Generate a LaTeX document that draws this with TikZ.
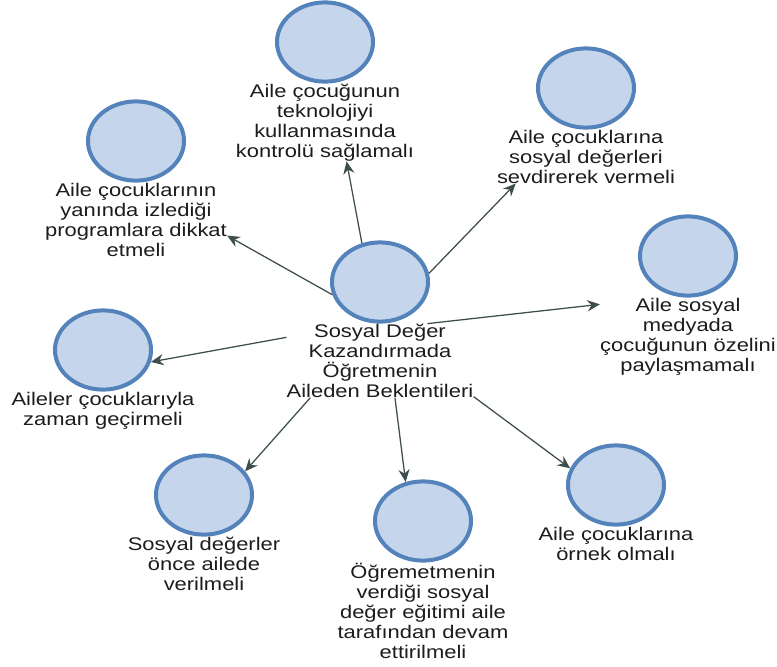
\documentclass[tikz,border=0pt]{standalone}
\usepackage{fontspec}
\setmainfont[FakeStretch=1.2]{Liberation Sans}
\usetikzlibrary{arrows.meta, positioning, shapes.geometric}
\definecolor{BubbleFill}{RGB}{197,214,236}
\definecolor{BubbleLine}{RGB}{84,130,186}
\definecolor{LinkGray}{RGB}{62,78,78}
\definecolor{TextGray}{RGB}{28,28,28}

\begin{document}
\begin{tikzpicture}[
    x=0.025cm, y=-0.025cm,
    font=\fontsize{13}{14.2}\selectfont,
    bubble/.style={ellipse, draw=BubbleLine, line width=0.1cm, fill=BubbleFill,
        minimum width=2.4cm, minimum height=1.98cm, inner sep=0pt},
    caption/.style={below=0pt of #1, align=center, inner sep=0pt, text=TextGray,
        execute at begin node={\rule{0pt}{12pt}}},
    link/.style={draw=LinkGray, line width=0.9pt,
        -{Stealth[length=9pt, width=8pt, inset=3pt]}}
]
\useasboundingbox (0,0) rectangle (777,666);

% centre
\node[bubble] (mrk) at (380,282) {};
\node[caption=mrk] (mrkL) {Sosyal Değer\\Kazandırmada\\Öğretmenin\\Aileden Beklentileri};

% expectations
\node[bubble] (tek) at (325,42) {};
\node[caption=tek] (tekL) {Aile çocuğunun\\teknolojiyi\\kullanmasında\\kontrolü sağlamalı};

\node[bubble] (prg) at (136,141) {};
\node[caption=prg] (prgL) {Aile çocuklarının\\yanında izlediği\\programlara dikkat\\etmeli};

\node[bubble] (sev) at (586,88) {};
\node[caption=sev] (sevL) {Aile çocuklarına\\sosyal değerleri\\sevdirerek vermeli};

\node[bubble] (med) at (688,256) {};
\node[caption=med] (medL) {Aile sosyal\\medyada\\çocuğunun özelini\\paylaşmamalı};

\node[bubble] (zam) at (103,350) {};
\node[caption=zam] (zamL) {Aileler çocuklarıyla\\zaman geçirmeli};

\node[bubble] (onc) at (204,495) {};
\node[caption=onc] (oncL) {Sosyal değerler\\önce ailede\\verilmeli};

\node[bubble] (egt) at (423,521) {};
\node[caption=egt] (egtL) {Öğremetmenin\\verdiği sosyal\\değer eğitimi aile\\tarafından devam\\ettirilmeli};

\node[bubble] (orn) at (616,485) {};
\node[caption=orn] (ornL) {Aile çocuklarına\\örnek olmalı};

\draw[link] (mrk.115) -- (tekL.-61);
\draw[link] (mrk.195) -- (prgL.-10);
\draw[link] (mrk.10) -- (sevL.201);
\draw[link] (mrkL.38) -- (medL.160);
\draw[link] (mrkL.166) -- (zam.-14);
\draw[link] (mrkL.208) -- (onc.30);
\draw[link] (mrkL.-68) -- (egt.114);
\draw[link] (mrkL.-21) -- (orn.160);

\end{tikzpicture}
\end{document}
